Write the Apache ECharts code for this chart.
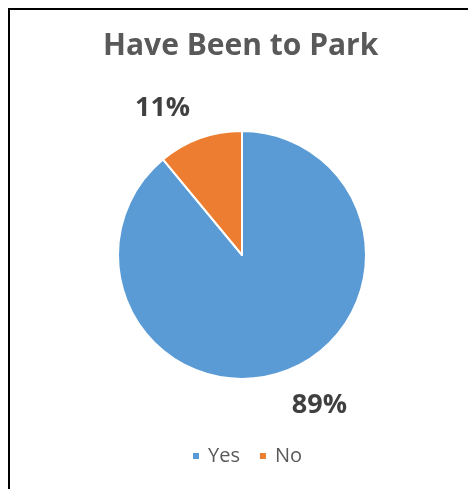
<!DOCTYPE html>
<html>
<head>
<meta charset="utf-8">
<script src="https://cdn.jsdelivr.net/npm/echarts@6/dist/echarts.min.js"></script>
<style>
html, body { margin: 0; padding: 0; background: #fff; }
#chart { width: 468px; height: 489px; }
</style>
</head>
<body>
<div id="chart"></div>
<script>
var categories = ['Yes', 'No'];
var values = [89, 11];
var colors = ['#5B9BD5', '#ED7D31'];

var chart = echarts.init(document.getElementById('chart'));

var data = [];
for (var i = 0; i < categories.length; i++) {
	data.push({ name: categories[i], value: values[i], itemStyle: { color: colors[i] } });
}

var option = {
	animation: false,
	title: {
		text: 'Have Been to Park',
		left: 98,
		top: 26,
		textStyle: {
			fontFamily: 'Open Sans',
			fontWeight: 'bold',
			fontSize: 30,
			color: '#595959'
		}
	},
	legend: {
		data: categories,
		bottom: 18,
		left: 186,
		icon: 'rect',
		itemWidth: 8,
		itemHeight: 8,
		itemGap: 18,
		textStyle: {
			fontFamily: 'Open Sans',
			fontSize: 20,
			color: '#595959',
			padding: [0, 0, 0, 3]
		}
	},
	graphic: [
		{ type: 'line', shape: { x1: 8, y1: 9, x2: 468, y2: 9 }, style: { stroke: '#000', lineWidth: 2 } },
		{ type: 'line', shape: { x1: 9, y1: 8, x2: 9, y2: 489 }, style: { stroke: '#000', lineWidth: 2 } }
	],
	series: [{
		type: 'pie',
		center: [242, 255],
		radius: 124,
		startAngle: 90,
		clockwise: true,
		itemStyle: {
			borderColor: '#fff',
			borderWidth: 2
		},
		label: {
			show: true,
			position: 'outside',
			formatter: '{d}%',
			fontFamily: 'Open Sans',
			fontWeight: 'bold',
			fontSize: 27,
			color: '#404040'
		},
		labelLine: { show: false, length: 32, length2: 0 },
		labelLayout: function(params) {
			// nudge labels toward the Excel placement
			return params.dataIndex === 0 ? { dx: -8, dy: 4 } : { dx: 6, dy: 0 };
		},
		data: data
	}]
};

chart.setOption(option);
</script>
</body>
</html>
